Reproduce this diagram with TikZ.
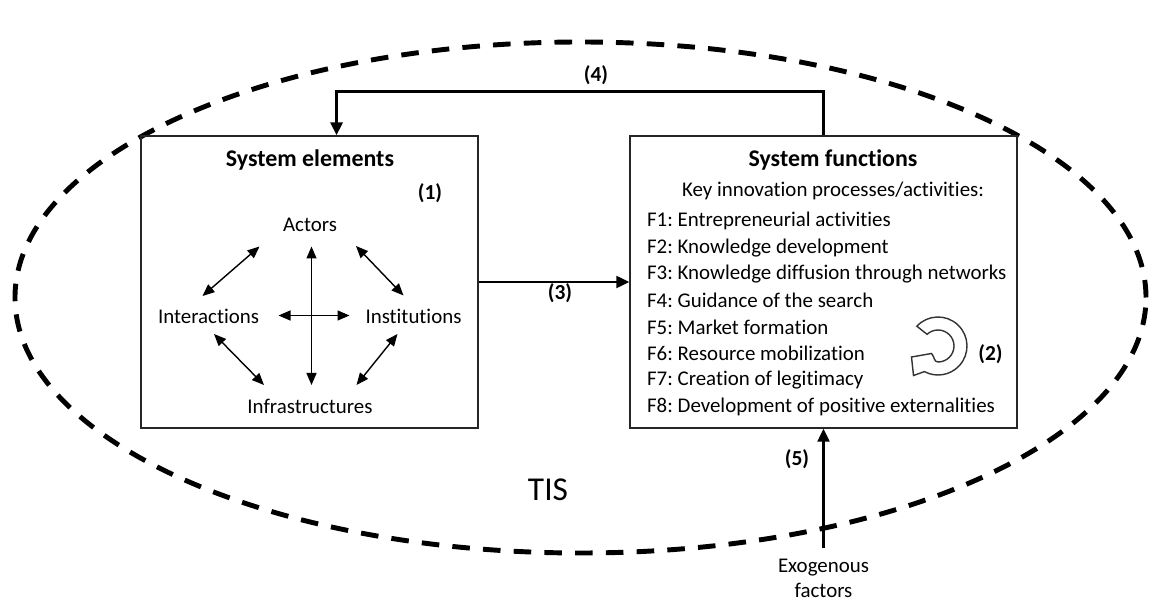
\documentclass[tikz,border=0pt]{standalone}
\usepackage{fontspec}
\setmainfont{Carlito}[Ligatures=NoCommon]
\usetikzlibrary{arrows.meta, positioning, calc}
\frenchspacing

\begin{document}
\begin{tikzpicture}[
  txt/.style={font=\fontsize{11.9}{14.6}\selectfont, inner sep=1pt},
  hd/.style={font=\fontsize{13.6}{16}\selectfont\bfseries, inner sep=1pt},
  num/.style={font=\fontsize{12.2}{15}\selectfont\bfseries, inner sep=1pt},
  panel/.style={draw=black!85, line width=0.8pt, minimum height=5.84cm},
  dbl/.style={{Triangle[length=0.24cm, width=0.2cm]}-{Triangle[length=0.24cm, width=0.2cm]}, line width=0.8pt},
  flow/.style={-{Triangle[length=0.26cm, width=0.24cm]}, line width=1.3pt},
]
\useasboundingbox (0,0) rectangle (23.06,12.06);

% ============================================================
% TIS boundary (dashed ellipse)
% ============================================================
\draw[line width=2.8pt, dash pattern=on 10pt off 7.5pt]
  (11.61,6.11) ellipse [x radius=11.31, y radius=5.11];
\node[font=\fontsize{19}{22}\selectfont] (tis) at (10.96,2.26) {TIS};

% ============================================================
% Two main boxes
% ============================================================
\node[panel, minimum width=6.74cm] (se) at (6.19,6.42) {};
\node[panel, minimum width=7.74cm] (sf) at (16.47,6.42) {};

% Elements -> functions
\draw[flow] (se.east) -- (sf.west);
\node[num] (n3) at (11.20,6.20) {(3)};

% Feedback: functions -> elements
\coordinate (se-in) at ($(se.north west)!0.58!(se.north east)$);
\draw[flow, line width=2pt] (sf.north) -- ++(0,0.88) -| (se-in);
\node[num] (n4) at (11.92,10.56) {(4)};

% Exogenous input
\node[txt, align=center, anchor=north] (exo) at (16.47,0.93)
  {Exogenous\\factors};
\draw[flow, shorten <=0.17cm] (exo.north) -- (sf.south);
\node[num] (n5) at (15.94,2.88) {(5)};

% ============================================================
% System elements
% ============================================================
\node[hd] (se-title) at (6.20,8.86) {System elements};
\node[num] (n1) at (8.60,8.20) {(1)};

\node[txt] (act) at (6.20,7.56) {Actors};
\node[txt] (int) at (4.17,5.74) {Interactions};
\node[txt] (ins) at (8.27,5.74) {Institutions};
\node[txt] (inf) at (6.20,3.94) {Infrastructures};

\draw[dbl] ($(act)+(0.03,-0.43)$) -- ($(inf)+(0.03,0.42)$);
\draw[dbl] ($(int)+(1.40,0.01)$)  -- ($(ins)+(-1.28,0.01)$);
\draw[dbl] ($(act)+(-1.01,-0.43)$) -- ($(int)+(-0.12,0.40)$);
\draw[dbl] ($(act)+(0.92,-0.42)$)  -- ($(ins)+(-0.20,0.41)$);
\draw[dbl] ($(int)+(0.11,-0.36)$)  -- ($(inf)+(-0.92,0.42)$);
\draw[dbl] ($(ins)+(-0.32,-0.36)$) -- ($(inf)+(0.93,0.42)$);

% ============================================================
% System functions
% ============================================================
\node[hd] (sf-title) at (16.66,8.86) {System functions};
\node[txt] (key) at (16.66,8.24) {Key innovation processes/activities:};

\foreach \i/\txt in {1/Entrepreneurial activities,
                     2/Knowledge development,
                     3/Knowledge diffusion through networks,
                     4/Guidance of the search,
                     5/Market formation,
                     6/Resource mobilization,
                     7/Creation of legitimacy,
                     8/Development of positive externalities}{
  \node[txt, anchor=west] (f\i) at (12.90, {7.64-0.531*(\i-1)}) {F\i: \txt};
}

% Circular arrow (interaction between functions)
\coordinate (loop) at (18.76,5.14);
\draw[line width=0.8pt, draw=black!80, fill=white]
  ($(loop)+(137:0.58)$) arc[start angle=137, end angle=-118, radius=0.58]
  -- (18.27,4.55) -- (18.23,4.92) -- (18.63,4.99)
  to[out=-45, in=180] ($(loop)+(-90:0.32)$)
  arc[start angle=-90, end angle=133, radius=0.32] -- cycle;
\node[num] (n2) at (19.81,4.98) {(2)};

\end{tikzpicture}
\end{document}
